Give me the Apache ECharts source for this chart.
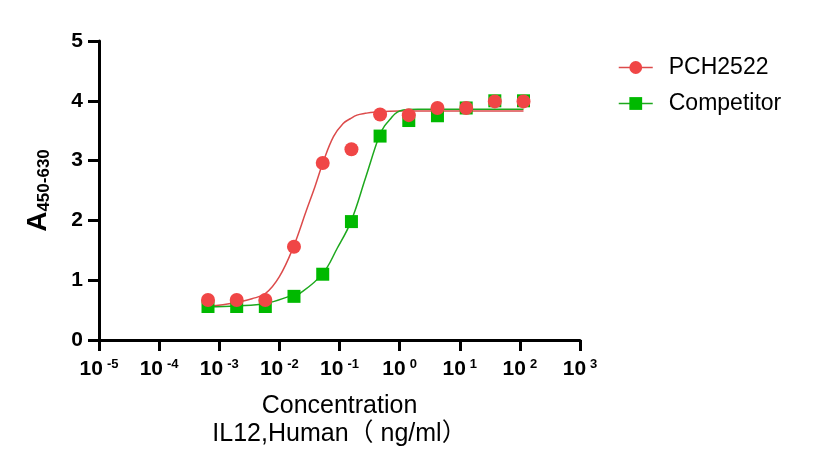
<!DOCTYPE html>
<html lang="en">
<head>
    <meta charset="utf-8"/>
    <title>IL12 binding ELISA</title>
    <script src="https://cdn.jsdelivr.net/npm/echarts@6/dist/echarts.min.js"></script>
    <style>
        html, body { margin: 0; background: #FFFFFF; }
        #chart { width: 819px; height: 471px; }
    </style>
</head>
<body>
<div id="chart"></div>
<script>
    // measured points (ng/ml, A450-630)
    var conc = [0.00065, 0.00195, 0.00584, 0.0175, 0.0526, 0.158, 0.473, 1.42, 4.26, 12.8, 38.3, 115];
    var pch2522 = [0.67, 0.67, 0.67, 1.56, 2.96, 3.19, 3.77, 3.76, 3.88, 3.88, 3.99, 3.99];
    var competitor = [0.56, 0.56, 0.56, 0.73, 1.10, 1.98, 3.41, 3.67, 3.75, 3.88, 4.00, 4.00];

    // fitted curves
    var pchFitX = [0.00065, 0.00115, 0.00195, 0.0035, 0.0059, 0.01, 0.017, 0.0282, 0.0389, 0.0537, 0.0794, 0.115, 0.151, 0.195, 0.269, 0.372, 1.0, 10, 115];
    var pchFitY = [0.57, 0.59, 0.63, 0.69, 0.78, 1.06, 1.55, 2.17, 2.56, 2.98, 3.40, 3.62, 3.70, 3.76, 3.79, 3.81, 3.83, 3.83, 3.83];
    var compFitX = [0.00065, 0.00195, 0.0059, 0.017, 0.0221, 0.0525, 0.0912, 0.155, 0.269, 0.457, 0.562, 0.708, 0.832, 1.0, 1.41, 2.0, 10, 115];
    var compFitY = [0.556, 0.57, 0.61, 0.75, 0.78, 1.11, 1.53, 1.98, 2.70, 3.41, 3.58, 3.70, 3.78, 3.83, 3.855, 3.86, 3.86, 3.86];

    var xTicks = [-5, -4, -3, -2, -1, 0, 1, 2, 3];

    var RED = '#F04646';
    var RED_LINE = '#DC4B4B';
    var GREEN = '#00B900';
    var GREEN_LINE = '#1DA81D';
    var FONT = 'Liberation Sans, Arial, Noto Sans CJK SC, sans-serif';

    function pairs(xs, ys) {
        return xs.map(function (x, i) { return [x, ys[i]]; });
    }

    var chart = echarts.init(document.getElementById('chart'));

    chart.setOption({
        animation: false,
        backgroundColor: '#FFFFFF',
        grid: { left: 99, right: 239, top: 41, bottom: 131 },
        legend: {
            data: ['PCH2522', 'Competitor'],
            orient: 'vertical',
            left: 613,
            top: 51,
            itemWidth: 34,
            itemHeight: 16,
            itemGap: 13,
            lineStyle: { opacity: 1, width: 1.5 },
            textStyle: { fontFamily: FONT, fontSize: 23, color: '#000', padding: [0, 0, 0, 11] }
        },
        xAxis: {
            type: 'log',
            logBase: 10,
            min: 1e-5,
            max: 1e3,
            interval: 1,
            name: 'Concentration\nIL12,Human（ ng/ml）',
            nameLocation: 'middle',
            nameGap: 52,
            nameTextStyle: { fontFamily: FONT, fontSize: 25, color: '#000', lineHeight: 28 },
            axisLine: { lineStyle: { color: '#000', width: 3 } },
            axisTick: { length: 11, lineStyle: { color: '#000', width: 3 } },
            splitLine: { show: false },
            minorTick: { show: false },
            axisLabel: {
                margin: 18,
                formatter: function (v) {
                    var e = Math.round(Math.log10(v));
                    if (xTicks.indexOf(e) < 0) return '';
                    return '{b|10}{s|' + e + '}';
                },
                rich: {
                    b: { fontFamily: FONT, fontSize: 21, fontWeight: 'bold', color: '#000' },
                    s: { fontFamily: FONT, fontSize: 13, fontWeight: 'bold', color: '#000', verticalAlign: 'top', padding: [0, 0, 9, 4] }
                }
            }
        },
        yAxis: {
            type: 'value',
            min: 0,
            max: 5,
            interval: 1,
            name: '{a|A}{s|450-630}',
            nameLocation: 'middle',
            nameRotate: 90,
            nameGap: 46,
            nameTextStyle: {
                rich: {
                    a: { fontFamily: FONT, fontSize: 28, fontWeight: 'bold', color: '#000' },
                    s: { fontFamily: FONT, fontSize: 17, fontWeight: 'bold', color: '#000', verticalAlign: 'bottom', padding: [12, 0, 0, 0] }
                }
            },
            axisLine: { show: true, lineStyle: { color: '#000', width: 3 } },
            axisTick: { show: true, length: 11, lineStyle: { color: '#000', width: 3 } },
            splitLine: { show: false },
            axisLabel: { margin: 16, fontFamily: FONT, fontSize: 21, fontWeight: 'bold', color: '#000' }
        },
        series: [
            {
                name: 'PCH2522 fit',
                type: 'line',
                smooth: 0.4,
                showSymbol: false,
                silent: true,
                lineStyle: { color: RED_LINE, width: 1.5 },
                data: pairs(pchFitX, pchFitY),
                z: 2
            },
            {
                name: 'Competitor fit',
                type: 'line',
                smooth: 0.4,
                showSymbol: false,
                silent: true,
                lineStyle: { color: GREEN_LINE, width: 1.5 },
                data: pairs(compFitX, compFitY),
                z: 2
            },
            {
                name: 'Competitor',
                type: 'line',
                symbol: 'rect',
                symbolSize: 13,
                itemStyle: { color: GREEN },
                lineStyle: { color: GREEN_LINE, opacity: 0 },
                data: pairs(conc, competitor),
                z: 3
            },
            {
                name: 'PCH2522',
                type: 'line',
                symbol: 'circle',
                symbolSize: 14,
                itemStyle: { color: RED },
                lineStyle: { color: RED_LINE, opacity: 0 },
                data: pairs(conc, pch2522),
                z: 4
            }
        ]
    });
</script>
</body>
</html>
